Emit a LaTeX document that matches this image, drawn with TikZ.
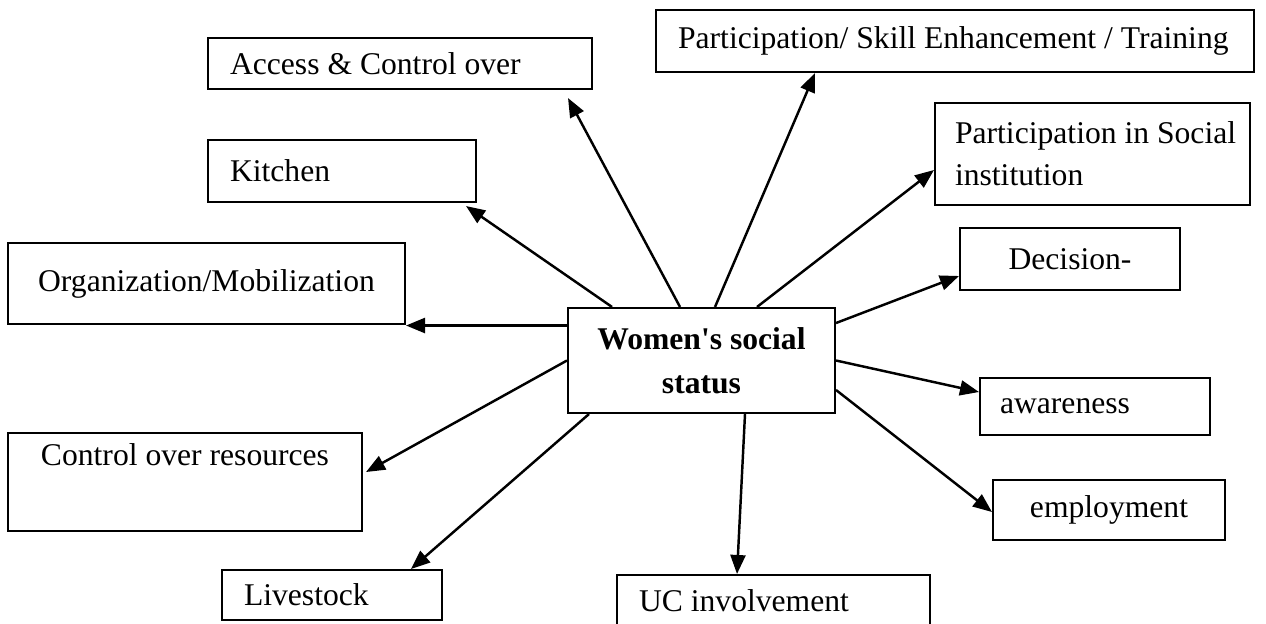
\documentclass[tikz,border=0pt]{standalone}
\usepackage{fontspec}
\setmainfont{Liberation Serif}[Ligatures=TeXOff]
\usetikzlibrary{arrows.meta, positioning, calc}
\tikzset{
  every picture/.style={line width=1.2pt},
  box/.style={draw, rectangle, inner xsep=0.44cm, inner ysep=0pt, font=\fontsize{18}{24}\selectfont},
  lbox/.style={box, align=flush left},
  cbox/.style={box, align=center},
  arrow/.style={-{Triangle[length=0.38cm, width=0.3cm]}, line width=1.4pt},
}
\begin{document}
\begin{tikzpicture}[x=0.02cm, y=-0.02cm]
  \clip (0,0) rectangle (1266,623);
  % centre box
  \node[cbox, minimum width=5.34cm, minimum height=2.1cm, font=\fontsize{18}{25}\selectfont\bfseries] (status) at (701.5,360.5) {Women's social\\status};
  % upper boxes
  \node[lbox, text width=6.8cm, minimum height=1.02cm] (access) at (400,63.5) {Access \& Control over};
  \node[lbox, text width=11.08cm, minimum height=1.24cm] (skill) at (955,41) {\mbox{Participation/ Skill Enhancement / Training}};
  \node[lbox, inner xsep=0.4cm, text width=5.5cm, minimum height=2.04cm] (social) at (1092.5,154) {\mbox{Participation in Social}\\institution};
  \node[lbox, text width=4.48cm, minimum height=1.24cm] (kitchen) at (342,171) {Kitchen};
  \node[cbox, minimum width=7.94cm, minimum height=1.62cm] (org) at (206.5,283.5) {Organization/Mobilization};
  \node[cbox, minimum width=4.4cm, minimum height=1.24cm] (decision) at (1070,259) {Decision-};
  % lower boxes
  \node[lbox, inner xsep=0.4cm, text width=3.8cm, minimum height=1.14cm] (aware) at (1095,406.5) {awareness};
  \node[cbox, minimum width=7.08cm, minimum height=1.96cm] (control) at (185,482) {Control over resources\\ \strut};
  \node[cbox, minimum width=4.64cm, minimum height=1.2cm] (employ) at (1109,510) {employment};
  \node[lbox, text width=3.52cm, minimum height=1.0cm] (live) at (332,595) {Livestock};
  \node[lbox, text width=5.38cm, minimum height=2.1cm] (uc) at (773.5,627.5) {UC involvement\\ \strut};
  % connectors
  \coordinate (orgstart) at ([yshift=0.7cm]status.west);
  \draw[arrow] ([xshift=-0.43cm]status.north) -- ([xshift=-0.5cm, yshift=-0.16cm]access.south east);
  \draw[arrow] ([xshift=0.27cm]status.north) -- ([xshift=-2.8cm]skill.south);
  \draw[arrow] ([xshift=1.11cm]status.north) -- ([yshift=-0.32cm]social.west);
  \draw[arrow] ([xshift=-1.79cm]status.north) -- ([xshift=-0.22cm, yshift=-0.06cm]kitchen.south east);
  \draw[arrow] (orgstart) -- (orgstart -| org.east);
  \draw[arrow] (status.west) -- ([xshift=0.06cm, yshift=0.2cm]control.east);
  \draw[arrow] ([xshift=0.44cm]status.south west) -- ([xshift=-0.64cm]live.north east);
  \draw[arrow] ([xshift=0.87cm]status.south) -- ([xshift=-0.73cm]uc.north);
  \draw[arrow] ([yshift=-0.59cm]status.east) -- ([yshift=-0.04cm]employ.west);
  \draw[arrow] (status.east) -- ([yshift=0.29cm]aware.west);
  \draw[arrow] ([yshift=0.75cm]status.east) -- ([yshift=-0.34cm]decision.west);
\end{tikzpicture}
\end{document}
